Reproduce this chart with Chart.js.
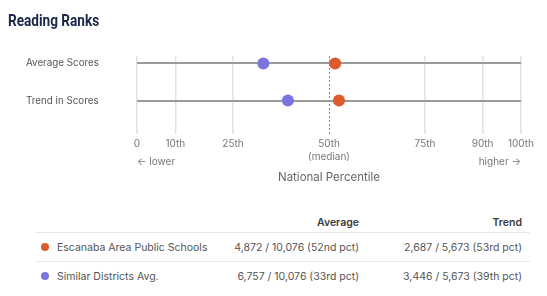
<!DOCTYPE html>
<html>
<head>
<meta charset="utf-8">
<script src="https://cdn.jsdelivr.net/npm/chart.js@4.4.1/dist/chart.umd.min.js"></script>
<style>
  body { margin: 0; width: 547px; height: 296px; background: #fff; position: relative; overflow: hidden;
         font-family: Inter, 'Noto Sans', sans-serif; }
  #title { position: absolute; left: 8px; top: 10px; line-height: 20px; z-index: 2; white-space: nowrap;
           font: bold 17px Roboto, 'DejaVu Sans', sans-serif; color: #1b2748;
           transform: scaleX(0.8); transform-origin: 0 50%; }
  #chartBox { position: absolute; left: 0; top: 0; width: 547px; height: 188px; }
  table { position: absolute; left: 35px; top: 212px; width: 495px; border-collapse: collapse;
          font-size: 10.5px; color: #555; table-layout: fixed; }
  th { font-weight: 600; color: #3a3a3a; text-align: right; height: 20px; padding: 0 8px; border-bottom: 1px solid #e9e9e9; }
  td { height: 28px; padding: 0 8px; text-align: right; white-space: nowrap; }
  tr.sep td { border-bottom: 1px solid #e9e9e9; }
  td.name { text-align: left; padding-left: 6px; }
  .dot { display: inline-block; width: 8px; height: 8px; border-radius: 50%; margin-right: 8px; vertical-align: -0.5px; }
</style>
</head>
<body>
<div id="title">Reading Ranks</div>
<div id="chartBox"><canvas id="rankChart"></canvas></div>
<table id="rankTable">
  <colgroup><col style="width:185px"><col style="width:147px"><col style="width:163px"></colgroup>
  <thead><tr><th></th><th>Average</th><th>Trend</th></tr></thead>
  <tbody id="rankBody"></tbody>
</table>
<script>
// rows of the dot plot
const categories = ['Average Scores', 'Trend in Scores'];

// series (percentile positions, one per category)
const seriesNames = ['Escanaba Area Public Schools', 'Similar Districts Avg.'];
const seriesColors = ['#dc5a2c', '#7c74e2'];
const escanabaPct = [51.6, 52.6];
const similarPct = [32.9, 39.3];

// x axis
const xTicks = [0, 10, 25, 50, 75, 90, 100];
const xTickLabels = ['0', '10th', '25th', ['50th', '(median)'], '75th', '90th', '100th'];
const medianValue = 50;

// table text
const averageText = ['4,872 / 10,076 (52nd pct)', '6,757 / 10,076 (33rd pct)'];
const trendText = ['2,687 / 5,673 (53rd pct)', '3,446 / 5,673 (39th pct)'];

const rankBody = document.getElementById('rankBody');
seriesNames.forEach((name, i) => {
  const tr = document.createElement('tr');
  if (i < seriesNames.length - 1) tr.className = 'sep';
  tr.innerHTML = `
    <td class="name"><span class="dot" style="background:${seriesColors[i]}"></span>${name}</td>
    <td>${averageText[i]}</td>
    <td>${trendText[i]}</td>`;
  rankBody.appendChild(tr);
});

const seriesValues = [escanabaPct, similarPct];

// median line + lower/higher hints
const extras = {
  id: 'extras',
  beforeDatasetsDraw(chart) {
    const { ctx, chartArea, scales: { x } } = chart;
    const mx = Math.round(x.getPixelForValue(medianValue)) + 0.5;
    ctx.save();
    ctx.strokeStyle = '#888';
    ctx.lineWidth = 1;
    ctx.setLineDash([2, 2]);
    ctx.beginPath();
    ctx.moveTo(mx, chartArea.top);
    ctx.lineTo(mx, chartArea.bottom);
    ctx.stroke();
    ctx.restore();
  },
  afterDraw(chart) {
    const { ctx, chartArea, scales: { x } } = chart;
    const y = chartArea.bottom + 28;
    ctx.save();
    ctx.font = '10px Inter, "Noto Sans", sans-serif';
    ctx.fillStyle = '#777';
    ctx.textBaseline = 'middle';
    ctx.textAlign = 'left';
    ctx.fillText('\u2190 lower', x.getPixelForValue(0), y);
    ctx.textAlign = 'right';
    ctx.fillText('higher \u2192', x.getPixelForValue(100), y);
    ctx.restore();
  }
};

const ctx = document.getElementById('rankChart').getContext('2d');
new Chart(ctx, {
  type: 'scatter',
  data: {
    datasets: seriesNames.map((name, si) => ({
      label: name,
      data: categories.map((c, ci) => ({ x: seriesValues[si][ci], y: ci })),
      backgroundColor: seriesColors[si],
      borderWidth: 0,
      pointRadius: 6,
      pointHoverRadius: 6
    }))
  },
  options: {
    responsive: true,
    maintainAspectRatio: false,
    animation: false,
    layout: { padding: { top: 56, left: 26, right: 26, bottom: 0 } },
    plugins: {
      legend: { display: false },
      tooltip: { enabled: false }
    },
    scales: {
      x: {
        type: 'linear',
        min: 0,
        max: 100,
        afterBuildTicks: s => { s.ticks = xTicks.map(v => ({ value: v })); },
        afterFit: s => { s.height = 54; },
        ticks: {
          autoSkip: false,
          maxRotation: 0,
          padding: 4,
          color: '#777',
          font: { family: 'Inter', size: 10, lineHeight: 1.25 },
          callback: v => xTickLabels[xTicks.indexOf(v)]
        },
        grid: {
          color: c => (c.tick && c.tick.value === medianValue) ? 'rgba(0,0,0,0)' : '#e2e2e2',
          lineWidth: 1.5,
          drawTicks: false
        },
        border: { display: false },
        title: {
          display: true,
          text: 'National Percentile',
          color: '#666',
          font: { family: 'Inter', size: 11.5 },
          padding: { top: 4, bottom: 4 }
        }
      },
      y: {
        type: 'linear',
        reverse: true,
        min: -0.2,
        max: 1.9,
        afterBuildTicks: s => { s.ticks = categories.map((c, i) => ({ value: i })); },
        afterFit: s => { s.width = 111; },
        ticks: {
          crossAlign: 'far',
          color: '#555',
          font: { family: 'Inter', size: 9.8 },
          callback: v => categories[v]
        },
        grid: { color: '#9a9a9a', lineWidth: 2, drawTicks: false },
        border: { display: false }
      }
    }
  },
  plugins: [extras]
});
</script>
</body>
</html>
